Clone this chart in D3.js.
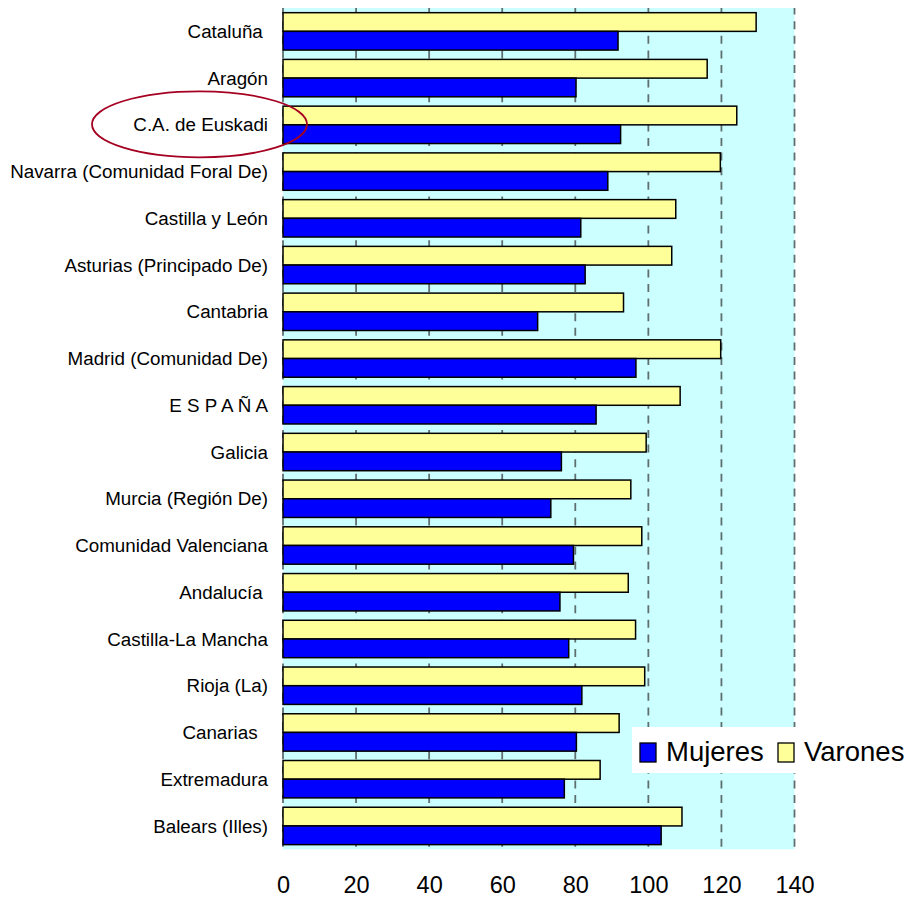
<!DOCTYPE html>
<html>
<head>
<meta charset="utf-8">
<script src="https://cdn.jsdelivr.net/npm/d3@7"></script>
<style>
  html, body { margin: 0; padding: 0; background: #ffffff; }
  svg { display: block; }
  text { font-family: "Liberation Sans", Arial, sans-serif; fill: #000; }
</style>
</head>
<body>
<svg id="chart" width="911" height="898"></svg>
<script>
// ---- data ----
const categories = [
  "Cataluña ", "Aragón", "C.A. de Euskadi", "Navarra (Comunidad Foral De)",
  "Castilla y León", "Asturias (Principado De)", "Cantabria", "Madrid (Comunidad De)",
  "E S P A Ñ A", "Galicia", "Murcia (Región De)", "Comunidad Valenciana",
  "Andalucía ", "Castilla-La Mancha", "Rioja (La)", "Canarias  ", "Extremadura", "Balears (Illes)"
];
const varones = [129.5, 116.1, 124.2, 119.7, 107.5, 106.4, 93.2, 119.8, 108.7, 99.4, 95.2, 98.2, 94.5, 96.5, 99.0, 92.0, 86.8, 109.2];
const mujeres = [91.7, 80.2, 92.4, 88.9, 81.5, 82.7, 69.7, 96.6, 85.7, 76.2, 73.3, 79.5, 75.8, 78.2, 81.8, 80.3, 77.0, 103.5];
const xTicks = [0, 20, 40, 60, 80, 100, 120, 140];
const seriesNames = ["Mujeres", "Varones"];
const seriesColors = ["#0000ff", "#ffff99"];

// ---- layout ----
const svg = d3.select("#chart");
const plot = { left: 283, right: 794.5, top: 8, bottom: 849.3 };

const x = d3.scaleLinear().domain([0, 140]).range([plot.left, plot.right]);
const y = d3.scaleBand().domain(categories).range([plot.top, plot.bottom])
  .paddingInner(0.2).paddingOuter(0.1);
const sub = d3.scaleBand().domain(["Varones", "Mujeres"]).range([0, y.bandwidth()]);

// plot background
svg.append("rect")
  .attr("x", plot.left).attr("y", plot.top)
  .attr("width", plot.right - plot.left).attr("height", plot.bottom - plot.top)
  .attr("fill", "#ccffff");

// gridlines (dashed)
svg.append("g").selectAll("line").data(xTicks).join("line")
  .attr("x1", d => x(d)).attr("x2", d => x(d))
  .attr("y1", plot.top).attr("y2", plot.bottom)
  .attr("stroke", "#5f6f70").attr("stroke-width", 1.8)
  .attr("stroke-dasharray", "8,6.6").attr("stroke-dashoffset", 1.4);

// bars
const groups = svg.append("g").selectAll("g").data(categories).join("g")
  .attr("transform", d => `translate(0,${y(d)})`);

groups.append("rect")
  .attr("x", x(0)).attr("y", sub("Varones"))
  .attr("width", (d, i) => x(varones[i]) - x(0))
  .attr("height", sub.bandwidth())
  .attr("fill", seriesColors[1]).attr("stroke", "#000").attr("stroke-width", 1.5);

groups.append("rect")
  .attr("x", x(0)).attr("y", sub("Mujeres"))
  .attr("width", (d, i) => x(mujeres[i]) - x(0))
  .attr("height", sub.bandwidth())
  .attr("fill", seriesColors[0]).attr("stroke", "#000").attr("stroke-width", 1.5);

// category labels
svg.append("g").selectAll("text").data(categories).join("text")
  .attr("x", 268)
  .attr("y", d => y(d) + y.bandwidth() / 2)
  .attr("dy", "0.35em")
  .attr("text-anchor", "end")
  .style("white-space", "pre")
  .attr("font-size", 18.8)
  .text(d => d);

// x axis labels
const xAxis = d3.axisBottom(x).tickValues(xTicks).tickSize(0).tickPadding(0);
const ax = svg.append("g").attr("transform", `translate(0,${plot.bottom})`).call(xAxis);
ax.select(".domain").remove();
ax.selectAll("text")
  .attr("y", 0).attr("dy", 0)
  .attr("transform", "translate(0,43.5)")
  .attr("font-size", 23.5)
  .attr("font-family", "Liberation Sans, Arial, sans-serif")
  .attr("fill", "#000");

// legend
const lg = svg.append("g");
lg.append("rect").attr("x", 632).attr("y", 727).attr("width", 279).attr("height", 46).attr("fill", "#ffffff");
const legendX = [640, 778];
seriesNames.forEach((name, i) => {
  lg.append("rect").attr("x", legendX[i]).attr("y", 743).attr("width", 16).attr("height", 19)
    .attr("fill", seriesColors[i]).attr("stroke", "#000").attr("stroke-width", 1.3);
  lg.append("text").attr("x", legendX[i] + 26).attr("y", 761)
    .attr("font-size", 27.5).text(name);
});

// highlight ellipse around C.A. de Euskadi
const hl = "C.A. de Euskadi";
svg.append("ellipse")
  .attr("cx", 199.5).attr("cy", y(hl) + y.bandwidth() / 2 - 0.5)
  .attr("rx", 107.5).attr("ry", 33)
  .attr("fill", "none").attr("stroke", "#a50021").attr("stroke-width", 1.8);
</script>
</body>
</html>
